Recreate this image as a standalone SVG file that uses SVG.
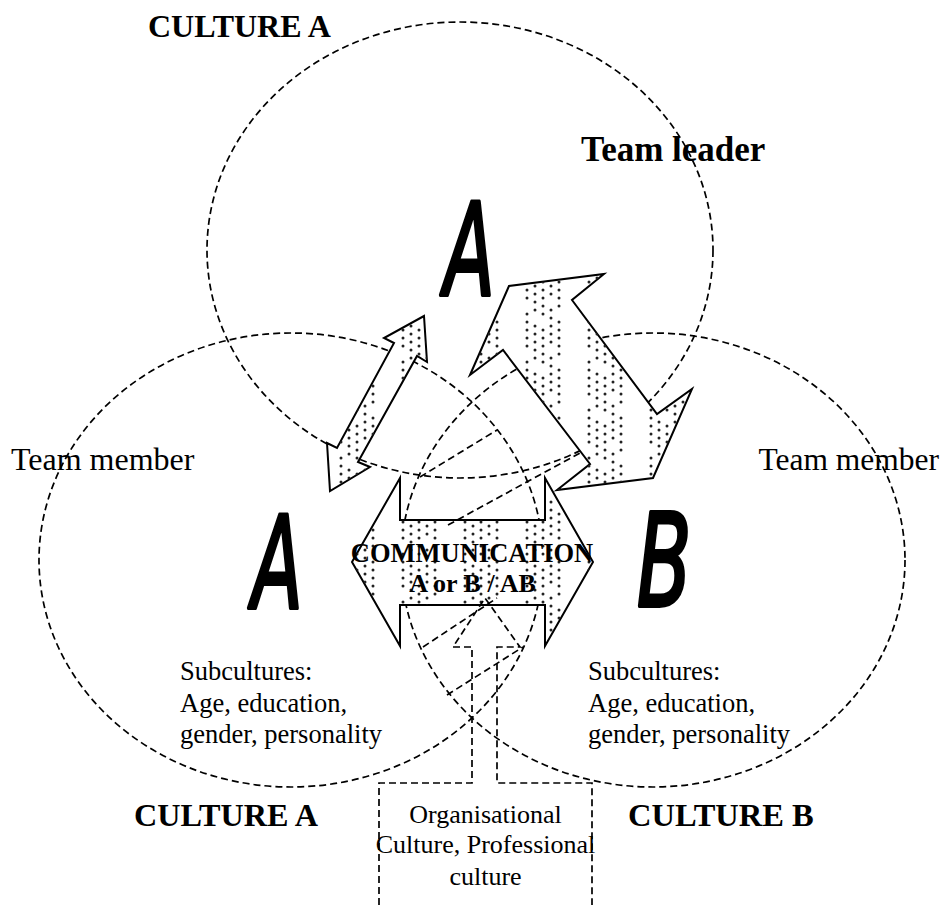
<svg xmlns="http://www.w3.org/2000/svg" width="944" height="905" viewBox="0 0 944 905">
  <defs>
    <style>
      .ring { fill: none; stroke: #000; stroke-width: 1.7; stroke-dasharray: 7 4; }
      .dash { fill: none; stroke: #000; stroke-width: 1.7; stroke-dasharray: 7 4; }
      .arrow { fill: #fff; stroke: #000; stroke-width: 2; stroke-linejoin: miter; }
      .arrow-dots { fill: url(#dots); stroke: none; }
      .label { font-family: "Liberation Serif", "Times New Roman", serif; fill: #000; }
      .bold { font-weight: bold; }
      .big { font-family: "DejaVu Sans", "Liberation Sans", sans-serif; font-style: oblique; fill: #000; stroke: #000; stroke-width: 4; stroke-linejoin: round; }
    </style>
    <!-- vertical bands of stippling used inside the block arrows -->
    <pattern id="dots" patternUnits="userSpaceOnUse" x="338" y="0" width="62" height="48">
      <g fill="#222">
        <circle cx="3" cy="2" r="1.5"/><circle cx="3" cy="10" r="1.5"/><circle cx="3" cy="26" r="1.5"/><circle cx="3" cy="34" r="1.5"/><circle cx="3" cy="42" r="1.5"/>
        <circle cx="11" cy="6" r="1.5"/><circle cx="11" cy="14" r="1.5"/><circle cx="11" cy="22" r="1.5"/><circle cx="11" cy="38" r="1.5"/><circle cx="11" cy="46" r="1.5"/>
        <circle cx="19" cy="2" r="1.5"/><circle cx="19" cy="10" r="1.5"/><circle cx="19" cy="18" r="1.5"/><circle cx="19" cy="26" r="1.5"/><circle cx="19" cy="42" r="1.5"/>
        <circle cx="27" cy="6" r="1.5"/><circle cx="27" cy="22" r="1.5"/><circle cx="27" cy="30" r="1.5"/><circle cx="27" cy="38" r="1.5"/><circle cx="27" cy="46" r="1.5"/>
        <circle cx="35" cy="2" r="1.5"/><circle cx="35" cy="10" r="1.5"/><circle cx="35" cy="18" r="1.5"/><circle cx="35" cy="34" r="1.5"/><circle cx="35" cy="42" r="1.5"/>
      </g>
    </pattern>
  </defs>

  <rect width="944" height="905" fill="#fff"/>

  <!-- culture circles -->
  <g id="culture-top">
    <ellipse class="ring" cx="460" cy="250" rx="253" ry="228"/>
  </g>
  <g id="culture-left">
    <ellipse class="ring" cx="291" cy="560" rx="252" ry="227"/>
  </g>
  <g id="culture-right">
    <ellipse class="ring" cx="653" cy="560" rx="252" ry="227"/>
  </g>

  <!-- block arrows between the team members -->
  <g id="connectors">
    <g id="arrow-leader-left">
      <polygon class="arrow" points="424,316 427,362 417,356 358,462 370,467 330,491 327,443 337,448 394,343 384,338"/>
      <polygon class="arrow-dots" points="424,316 427,362 417,356 358,462 370,467 330,491 327,443 337,448 394,343 384,338"/>
    </g>
    <g id="arrow-leader-right">
      <polygon class="arrow" points="470,375 509,286 604,274 572,300 657,414 692,389 653,478 557,490 590,464 503,350"/>
      <polygon class="arrow-dots" points="470,375 509,286 604,274 572,300 657,414 692,389 653,478 557,490 590,464 503,350"/>
    </g>
    <g id="arrow-communication">
      <polygon class="arrow" points="352,562 400,478 400,520 545,520 545,478 593,562 545,646 545,605 400,605 400,646"/>
      <polygon class="arrow-dots" points="352,562 400,478 400,520 545,520 545,478 593,562 545,646 545,605 400,605 400,646"/>
    </g>
    <!-- dashed guides in the overlap -->
    <g id="guides">
      <line class="dash" x1="420" y1="477" x2="497" y2="430"/>
      <line class="dash" x1="448" y1="525" x2="580" y2="453"/>
      <line class="dash" x1="423" y1="647" x2="497" y2="598"/>
      <line class="dash" x1="447" y1="695" x2="523" y2="647"/>
    </g>
  </g>

  <!-- organisational culture: dashed arrow pointing up into the overlap -->
  <g id="organisation">
    <polyline class="dash" points="379,905 379,783 472,783 472,647 453,647 485,598 520,647 497,647 497,783 592,783 592,905"/>
    <text class="label" x="485.5" y="823" font-size="26" text-anchor="middle">Organisational</text>
    <text class="label" x="485.5" y="853" font-size="26" text-anchor="middle">Culture, Professional</text>
    <text class="label" x="485.5" y="885" font-size="26" text-anchor="middle">culture</text>
  </g>

  <g id="communication-label">
    <text class="label bold" x="472" y="562" font-size="26.5" text-anchor="middle">COMMUNICATION</text>
    <text class="label bold" x="472.5" y="592" font-size="26" text-anchor="middle">A or B / AB</text>
  </g>

  <!-- leader node -->
  <g id="leader">
    <text class="label bold" x="148" y="37" font-size="32">CULTURE A</text>
    <text class="label bold" x="581" y="161" font-size="35">Team leader</text>
    <text class="big" transform="translate(444,295) scale(0.58,1)" font-size="128">A</text>
  </g>

  <!-- left member node -->
  <g id="member-left">
    <text class="label" x="11" y="470" font-size="32">Team member</text>
    <text class="big" transform="translate(252,608) scale(0.58,1)" font-size="128">A</text>
    <text class="label" x="180" y="680" font-size="26.5">Subcultures:</text>
    <text class="label" x="180" y="712" font-size="26.5">Age, education,</text>
    <text class="label" x="180" y="743" font-size="26.5">gender, personality</text>
    <text class="label bold" x="134" y="826" font-size="32.2">CULTURE A</text>
  </g>

  <!-- right member node -->
  <g id="member-right">
    <text class="label" x="939" y="470" font-size="31.5" text-anchor="end">Team member</text>
    <text class="big" transform="translate(637,606) scale(0.62,1)" font-size="128">B</text>
    <text class="label" x="588" y="680" font-size="26.5">Subcultures:</text>
    <text class="label" x="588" y="712" font-size="26.5">Age, education,</text>
    <text class="label" x="588" y="743" font-size="26.5">gender, personality</text>
    <text class="label bold" x="628" y="826" font-size="32.5">CULTURE B</text>
  </g>
</svg>
